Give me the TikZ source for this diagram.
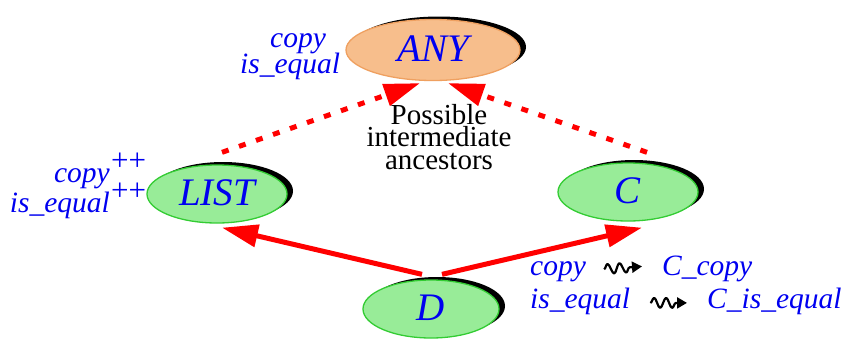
\documentclass[tikz,border=0pt]{standalone}
\usepackage{fontspec}
\setmainfont{Liberation Serif}
\usetikzlibrary{arrows.meta,shapes.geometric,shadows,decorations.pathmorphing}
\definecolor{anyfill}{HTML}{F7BE8C}
\definecolor{anyborder}{HTML}{EFA060}
\definecolor{clsfill}{HTML}{98EC98}
\definecolor{clsborder}{HTML}{33CC33}
\definecolor{txtblue}{HTML}{0000F0}
\definecolor{arrred}{HTML}{FF0000}
\newcommand{\bigit}{\fontsize{39}{40}\selectfont\itshape}
\newcommand{\lblfont}{\fontsize{29.5}{30}\selectfont\itshape}
\begin{document}
\begin{tikzpicture}[x=1pt,y=-1pt,
  ellbase/.style={ellipse, line width=1.3pt, inner sep=0pt, text=txtblue, font=\bigit,
    drop shadow={shadow xshift=6pt, shadow yshift=3pt, fill=black, opacity=1}},
  anyell/.style={ellbase, draw=anyborder, fill=anyfill, minimum width=174pt, minimum height=61pt},
  clsell/.style={ellbase, draw=clsborder, fill=clsfill, minimum width=140pt, minimum height=58pt},
  lbl/.style={font=\lblfont, text=txtblue, inner sep=0pt},
  plusplus/.style={lbl, font=\fontsize{31}{31}\selectfont},
  inherit/.style={draw=arrred, line width=5pt, -{Triangle[length=36pt,width=22pt]}},
  maybe/.style={inherit, dash pattern=on 7pt off 11pt},
  squig/.style={draw=black, line width=2.2pt, line join=round, decorate,
    decoration={snake, amplitude=5pt, segment length=12pt, post length=11pt},
    -{Triangle[length=10pt,width=11pt]}}
]
\useasboundingbox (0,0) rectangle (847,338);

% classes
\node[anyell] (ANY) at (433,50) {\raisebox{3pt}{ANY}};
\node[clsell] (LIST) at (217,194) {\raisebox{3pt}{LIST}};
\node[clsell] (C) at (628,192) {\raisebox{3pt}{C}};
\node[clsell, minimum width=136pt] (D) at (431,309) {\raisebox{2pt}{D}};

% inheritance
\draw[maybe] ([shift={(5,-12)}]LIST.north) -- ([shift={(-13,2)}]ANY.south);
\draw[maybe] ([shift={(19,-10)}]C.north) -- ([shift={(15,2)}]ANY.south);
\draw[inherit] ([shift={(-9,-5)}]D.north) -- ([shift={(5,4)}]LIST.south);
\draw[inherit] ([shift={(11,-5)}]D.north) -- ([shift={(14,6)}]C.south);

% middle text
\node[anchor=north, align=center, inner sep=0pt, font=\fontsize{29}{22.5}\selectfont] (poss) at (439,104)
  {Possible\\intermediate\\ancestors};

% ANY features
\node[lbl, anchor=base west] (anycopy) at (270,47) {copy};
\node[lbl, anchor=base west] (anyeq) at (240,73) {is\_equal};

% LIST features
\node[lbl, anchor=base east] (lcopy) at (110,182) {copy};
\node[plusplus, anchor=base west] (lcopyp) at (111,170) {++};
\node[lbl, anchor=base east] (leq) at (110,212) {is\_equal};
\node[plusplus, anchor=base west] (leqp) at (111,200) {++};

% D renaming
\node[lbl, anchor=base west] (dcopy) at (530,275) {copy};
\node[lbl, anchor=base west] (dccopy) at (662,275) {C\_copy};
\node[lbl, anchor=base west] (deq) at (530,308) {is\_equal};
\node[lbl, anchor=base west] (dceq) at (707,308) {C\_is\_equal};
\draw[squig] ([xshift=18pt,yshift=2pt]dcopy.east) -- ([xshift=-20pt,yshift=2pt]dccopy.west);
\draw[squig] ([xshift=20pt,yshift=-2pt]deq.east) -- ([xshift=-20pt,yshift=-2pt]dceq.west);
\end{tikzpicture}
\end{document}
